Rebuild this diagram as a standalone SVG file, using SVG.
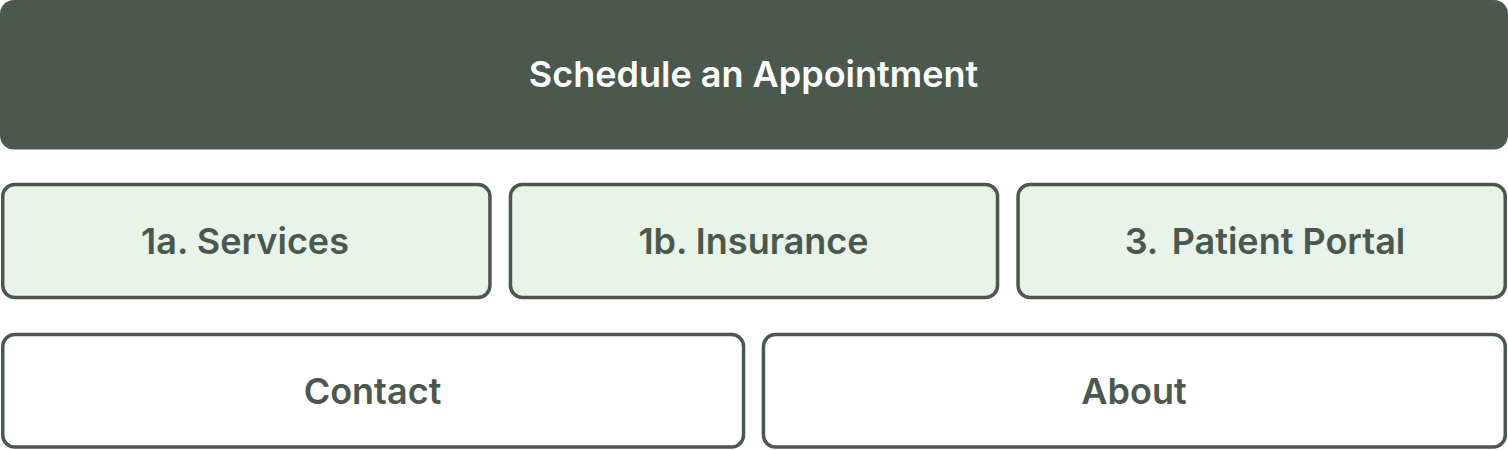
<svg xmlns="http://www.w3.org/2000/svg" width="1508" height="450" viewBox="0 0 1508 450">
<style>
.t{font-family:Inter,"Noto Sans",sans-serif;font-weight:600;font-size:36px;text-anchor:middle}
.hd{fill:#4b584d}
.ht{fill:#ffffff}
.sub{fill:#e8f3ea;stroke:#4b584d;stroke-width:3.5}
.pl{fill:#ffffff;stroke:#4b584d;stroke-width:3.5}
.st{fill:#4b584d}
</style>
<g id="connectors"></g>
<g id="schedule">
<rect class="hd" x="0" y="0" width="1508" height="149.5" rx="14"/>
<text class="t ht" x="753.5" y="87">Schedule an Appointment</text>
</g>
<g id="services">
<rect class="sub" x="2.75" y="184.5" width="487.2" height="113" rx="12"/>
<text class="t st" x="245" y="253.5">1a. Services</text>
</g>
<g id="insurance">
<rect class="sub" x="510.45" y="184.5" width="487.1" height="113" rx="12"/>
<text class="t st" x="753.5" y="253.5">1b. Insurance</text>
</g>
<g id="portal">
<rect class="sub" x="1018.05" y="184.5" width="487.2" height="113" rx="12"/>
<text class="t st" x="1265" y="253.5">3.<tspan dx="5"> Patient Portal</tspan></text>
</g>
<g id="contact">
<rect class="pl" x="2.75" y="334.5" width="740.8" height="112.5" rx="12"/>
<text class="t st" x="372.5" y="403.5">Contact</text>
</g>
<g id="about">
<rect class="pl" x="763.45" y="334.5" width="741.8" height="112.5" rx="12"/>
<text class="t st" x="1134" y="403.5">About</text>
</g>
</svg>
